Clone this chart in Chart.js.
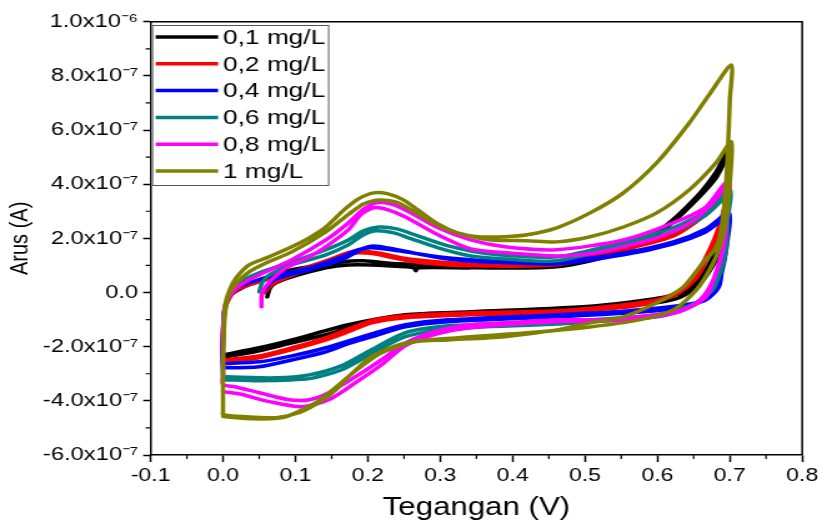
<!DOCTYPE html>
<html>
<head>
<meta charset="utf-8">
<script src="https://cdn.jsdelivr.net/npm/chart.js@4.4.1/dist/chart.umd.min.js"></script>
<style>
html,body{margin:0;padding:0;background:#fff;overflow:hidden}
#c{display:block}
</style>
</head>
<body>
<canvas id="c" width="658" height="523" style="width:822px;height:523px"></canvas>
<script>
// ---- data (voltage in V, current in units of 1e-7 A) ----
const I_UNIT = 1e-7;
const seriesLabels = ['0,1 mg/L', '0,2 mg/L', '0,4 mg/L', '0,6 mg/L', '0,8 mg/L', '1 mg/L'];
const seriesColors = ['#000000', '#ff0000', '#0000ff', '#008080', '#ff00ff', '#808000'];

const v01 = [0.061,0.065,0.073,0.095,0.142,0.173,0.205,0.252,0.264,0.266,0.269,0.342,0.461,0.553,0.609,0.654,0.681,0.699,
  0.696,0.690,0.681,0.660,0.633,0.599,0.516,0.461,0.342,0.252,0.205,0.173,0.142,0.095,0.050,0.005,0.0,
  0.0,0.002,0.011,0.029,0.050,0.095,0.164,0.194,0.242,0.342,0.461,0.553,0.609,0.654,0.681,0.699,
  0.696,0.689,0.678,0.657,0.630,0.516,0.342,0.252,0.173,0.095,0.050,0.0];
const i01 = [-0.16,0.17,0.36,0.58,0.91,1.02,1.02,0.95,0.91,0.80,0.91,0.91,0.95,1.50,2.31,3.42,4.23,5.08,
  3.79,2.31,1.21,0.36,-0.16,-0.38,-0.56,-0.67,-0.79,-0.90,-1.01,-1.30,-1.56,-1.86,-2.15,-2.37,-2.37,
  -1.38,-0.65,-0.08,0.21,0.47,0.84,1.13,1.17,1.06,0.99,1.02,1.58,2.42,3.53,4.45,5.27,
  3.97,2.49,1.39,0.47,-0.05,-0.49,-0.71,-0.82,-1.19,-1.75,-2.04,-2.30];

const v02 = [0.057,0.071,0.105,0.146,0.183,0.208,0.228,0.274,0.342,0.461,0.553,0.622,0.667,0.699,
  0.695,0.684,0.672,0.654,0.630,0.599,0.562,0.516,0.461,0.342,0.252,0.205,0.173,0.142,0.095,0.050,0.005,0.0,
  0.0,0.002,0.009,0.022,0.059,0.105,0.146,0.183,0.215,0.256,0.342,0.461,0.553,0.622,0.667,0.699,
  0.691,0.678,0.657,0.633,0.599,0.516,0.461,0.342,0.252,0.205,0.142,0.095,0.050,0.0];
const i02 = [-0.01,0.36,0.73,1.13,1.46,1.43,1.32,1.10,0.99,1.02,1.58,2.09,2.90,3.93,
  3.23,2.31,1.46,0.54,-0.01,-0.34,-0.53,-0.64,-0.75,-0.82,-0.93,-1.12,-1.45,-1.75,-2.11,-2.41,-2.59,-2.59,
  -1.56,-0.71,-0.19,0.14,0.47,0.84,1.21,1.54,1.46,1.24,1.06,1.10,1.65,2.20,3.05,4.04,
  2.97,1.94,0.84,0.10,-0.27,-0.56,-0.67,-0.75,-0.86,-1.04,-1.67,-2.04,-2.34,-2.49];

const v04 = [0.057,0.071,0.119,0.164,0.192,0.208,0.236,0.269,0.311,0.366,0.461,0.553,0.622,0.667,0.699,
  0.696,0.690,0.685,0.667,0.630,0.562,0.461,0.311,0.252,0.205,0.173,0.142,0.095,0.050,0.005,0.0,
  0.0,0.002,0.009,0.022,0.059,0.119,0.164,0.187,0.205,0.242,0.297,0.366,0.461,0.553,0.622,0.667,0.699,
  0.696,0.689,0.678,0.654,0.562,0.461,0.311,0.252,0.205,0.142,0.095,0.050,0.0];
const i04 = [0.10,0.47,0.84,1.21,1.61,1.72,1.61,1.43,1.24,1.13,1.06,1.39,1.80,2.24,2.83,
  1.94,1.02,0.21,-0.27,-0.57,-0.75,-0.90,-1.08,-1.27,-1.64,-1.89,-2.19,-2.49,-2.74,-2.78,-2.74,
  -1.56,-0.65,-0.12,0.21,0.54,0.91,1.32,1.58,1.65,1.54,1.32,1.17,1.13,1.46,1.87,2.35,2.94,
  1.76,0.76,0.03,-0.38,-0.67,-0.82,-1.01,-1.19,-1.53,-2.04,-2.34,-2.56,-2.63];

const v06 = [0.050,0.054,0.064,0.095,0.142,0.173,0.194,0.212,0.236,0.256,0.297,0.342,0.389,0.461,0.553,0.622,0.667,0.699,
  0.697,0.695,0.681,0.654,0.599,0.507,0.461,0.311,0.252,0.205,0.164,0.119,0.073,0.005,0.0,
  0.0,0.002,0.009,0.022,0.050,0.095,0.142,0.173,0.194,0.215,0.240,0.269,0.311,0.366,0.461,0.553,0.622,0.667,0.700,
  0.697,0.691,0.678,0.649,0.599,0.461,0.311,0.252,0.205,0.164,0.119,0.050,0.0];
const i06 = [0.03,0.36,0.65,1.02,1.39,1.76,2.13,2.28,2.20,2.02,1.65,1.35,1.24,1.17,1.76,2.24,2.86,3.60,
  2.86,1.58,0.36,-0.38,-0.82,-1.01,-1.08,-1.23,-1.48,-2.11,-2.70,-3.04,-3.15,-3.11,-3.07,
  -1.75,-0.65,-0.08,0.36,0.73,1.13,1.58,1.94,2.28,2.42,2.35,2.09,1.72,1.43,1.32,1.87,2.39,3.01,3.79,
  2.68,1.28,0.17,-0.49,-0.90,-1.16,-1.34,-1.63,-2.26,-2.85,-3.18,-3.26,-3.22];

const v08 = [0.053,0.054,0.067,0.087,0.119,0.142,0.173,0.190,0.208,0.228,0.252,0.297,0.342,0.389,0.461,0.516,0.553,0.599,0.640,0.667,0.688,0.699,
  0.697,0.693,0.685,0.670,0.654,0.630,0.562,0.516,0.461,0.389,0.342,0.297,0.252,0.219,0.183,0.146,0.119,0.091,0.050,0.016,0.0,
  0.0,0.0,0.003,0.016,0.036,0.050,0.095,0.142,0.173,0.194,0.212,0.232,0.252,0.297,0.342,0.389,0.461,0.553,0.622,0.667,0.695,
  0.696,0.690,0.681,0.667,0.630,0.562,0.461,0.342,0.297,0.252,0.219,0.183,0.146,0.109,0.064,0.022,0.0];
const i08 = [-0.53,-0.01,0.47,0.91,1.32,1.69,2.31,2.87,3.13,3.05,2.79,2.13,1.61,1.47,1.35,1.47,1.69,2.02,2.50,3.05,3.71,4.23,
  3.42,1.94,1.01,0.10,-0.38,-0.68,-0.93,-1.01,-1.01,-1.12,-1.19,-1.41,-1.86,-2.48,-3.11,-3.70,-3.96,-3.96,-3.70,-3.48,-3.40,
  -3.04,-1.38,-0.45,0.10,0.47,0.65,1.21,1.94,2.57,3.08,3.31,3.27,3.05,2.39,1.94,1.69,1.58,1.94,2.57,3.16,4.04,
  2.86,1.58,0.76,-0.16,-0.71,-1.01,-1.08,-1.30,-1.52,-1.96,-2.67,-3.33,-3.96,-4.22,-4.03,-3.74,-3.66];

const v10 = [0.0,0.0,0.001,0.003,0.009,0.018,0.036,0.060,0.095,0.119,0.142,0.167,0.187,0.208,0.228,0.249,0.269,0.297,0.324,0.352,0.389,0.420,0.461,0.507,0.553,0.599,0.644,0.674,0.702,
  0.700,0.697,0.693,0.688,0.681,0.663,0.636,0.599,0.553,0.507,0.461,0.389,0.311,0.265,0.219,0.173,0.156,0.132,0.105,0.073,0.027,0.0,
  0.0,0.0,0.002,0.007,0.018,0.036,0.060,0.095,0.142,0.174,0.194,0.217,0.242,0.269,0.304,0.338,0.370,0.420,0.461,0.507,0.553,0.599,0.644,0.681,0.702,
  0.700,0.696,0.690,0.677,0.654,0.622,0.575,0.507,0.420,0.324,0.252,0.205,0.173,0.128,0.082,0.036,0.0];
const i10 = [-4.51,-3.22,-1.38,-0.45,0.10,0.54,1.02,1.28,1.69,2.02,2.42,3.05,3.46,3.68,3.64,3.42,3.05,2.53,2.20,2.06,2.06,2.13,2.39,2.94,3.68,4.79,6.26,7.40,8.40,
  7.11,5.01,3.42,2.31,1.65,1.10,0.21,-0.38,-0.90,-1.12,-1.38,-1.63,-1.75,-1.82,-2.23,-3.11,-3.59,-4.07,-4.44,-4.62,-4.58,-4.51,
  -4.40,-2.85,-1.01,-0.16,0.32,0.76,1.10,1.50,2.24,2.90,3.27,3.42,3.31,2.90,2.39,2.09,1.94,1.91,1.87,2.06,2.42,2.94,3.79,4.79,5.56,
  4.04,2.86,2.02,1.09,0.10,-0.64,-1.01,-1.27,-1.49,-1.67,-1.86,-2.37,-3.11,-4.07,-4.62,-4.66,-4.58];

const seriesV = [v01, v02, v04, v06, v08, v10];
const seriesI = [i01, i02, i04, i06, i08, i10];

const xTickValues = [-0.1, 0.0, 0.1, 0.2, 0.3, 0.4, 0.5, 0.6, 0.7, 0.8];
const xTickLabels = ['-0.1', '0.0', '0.1', '0.2', '0.3', '0.4', '0.5', '0.6', '0.7', '0.8'];
const yTickValues = [-6, -4, -2, 0, 2, 4, 6, 8, 10];
const yTickLabels = ['-6.0x10\u207B\u2077', '-4.0x10\u207B\u2077', '-2.0x10\u207B\u2077', '0.0',
  '2.0x10\u207B\u2077', '4.0x10\u207B\u2077', '6.0x10\u207B\u2077', '8.0x10\u207B\u2077', '1.0x10\u207B\u2076'];

// ---- chart ----
const FONT = '"Liberation Sans", Arial, Helvetica, sans-serif';

const datasets = seriesV.map((vs, s) => ({
  label: seriesLabels[s],
  data: vs.map((v, k) => ({ x: v, y: seriesI[s][k] * I_UNIT })),
  borderColor: seriesColors[s],
  backgroundColor: seriesColors[s],
  borderWidth: 3.5,
  pointRadius: 0,
  tension: 0.25,
  fill: false,
  showLine: true,
  order: seriesV.length - 1 - s,
  borderJoinStyle: 'round',
  borderCapStyle: 'round'
}));

const decorPlugin = {
  id: 'decor',
  afterDraw(chart) {
    const ctx = chart.ctx;
    const a = chart.chartArea;
    const xs = chart.scales.x, ys = chart.scales.y;
    ctx.save();
    // frame (top and right)
    ctx.strokeStyle = '#000';
    ctx.lineWidth = 1.5;
    ctx.beginPath();
    ctx.moveTo(a.left, a.top); ctx.lineTo(a.right, a.top); ctx.lineTo(a.right, a.bottom);
    ctx.stroke();
    // minor ticks
    ctx.lineWidth = 1.2;
    ctx.beginPath();
    for (let k = 0; k < xTickValues.length - 1; k++) {
      const px = xs.getPixelForValue((xTickValues[k] + xTickValues[k + 1]) / 2);
      ctx.moveTo(px, a.bottom); ctx.lineTo(px, a.bottom + 4);
    }
    for (let k = 0; k < yTickValues.length - 1; k++) {
      const py = ys.getPixelForValue((yTickValues[k] + yTickValues[k + 1]) / 2 * I_UNIT);
      ctx.moveTo(a.left, py); ctx.lineTo(a.left - 4, py);
    }
    ctx.stroke();
    // legend
    const bx = a.left + 1, by = 25, bw = 141, bh = 160;
    ctx.fillStyle = '#fff';
    ctx.fillRect(bx, by, bw, bh);
    ctx.strokeStyle = '#555';
    ctx.lineWidth = 1;
    ctx.strokeRect(bx + 0.5, by + 0.5, bw, bh);
    ctx.font = '21px ' + FONT;
    ctx.textBaseline = 'middle';
    ctx.textAlign = 'left';
    chart.data.datasets.forEach((d, i) => {
      const y = 37 + i * 26.8;
      ctx.strokeStyle = d.borderColor;
      ctx.lineWidth = 3.5;
      ctx.beginPath();
      ctx.moveTo(bx + 3, y); ctx.lineTo(bx + 53, y);
      ctx.stroke();
      ctx.fillStyle = '#000';
      ctx.fillText(d.label, bx + 57, y + 1);
    });
    ctx.restore();
  }
};

new Chart(document.getElementById('c'), {
  type: 'line',
  data: { datasets },
  options: {
    responsive: false,
    animation: false,
    devicePixelRatio: 1,
    layout: { autoPadding: false, padding: { top: 21.7, right: 12.7, left: 0, bottom: 0 } },
    plugins: { legend: { display: false }, tooltip: { enabled: false } },
    scales: {
      x: {
        type: 'linear',
        min: -0.1, max: 0.8,
        afterFit(scale) { scale.height = 68; },
        afterBuildTicks(scale) { scale.ticks = xTickValues.map(v => ({ value: v })); },
        ticks: {
          autoSkip: false, maxRotation: 0, color: '#000', padding: 3,
          font: { family: FONT, size: 18.5 },
          callback: (v, i) => xTickLabels[i]
        },
        grid: { display: true, drawOnChartArea: false, drawTicks: true, tickLength: 7, tickWidth: 1.5, tickColor: '#000' },
        border: { display: true, color: '#000', width: 1.5 },
        title: { display: true, text: 'Tegangan (V)', color: '#000', font: { family: FONT, size: 25 }, padding: { top: 2, bottom: 0 } }
      },
      y: {
        type: 'linear',
        min: -6 * I_UNIT, max: 10 * I_UNIT,
        afterFit(scale) { scale.width = 120.6; },
        afterBuildTicks(scale) { scale.ticks = yTickValues.map(v => ({ value: v * I_UNIT })); },
        ticks: {
          autoSkip: false, color: '#000', padding: 4,
          font: { family: FONT, size: 19 },
          callback: (v, i) => yTickLabels[i]
        },
        grid: { display: true, drawOnChartArea: false, drawTicks: true, tickLength: 6, tickWidth: 1.5, tickColor: '#000' },
        border: { display: true, color: '#000', width: 1.5 },
        title: { display: true, text: 'Arus (A)', color: '#000', font: { family: FONT, size: 20 }, padding: { top: 4, bottom: 2 } }
      }
    }
  },
  plugins: [decorPlugin]
});
</script>
</body>
</html>
